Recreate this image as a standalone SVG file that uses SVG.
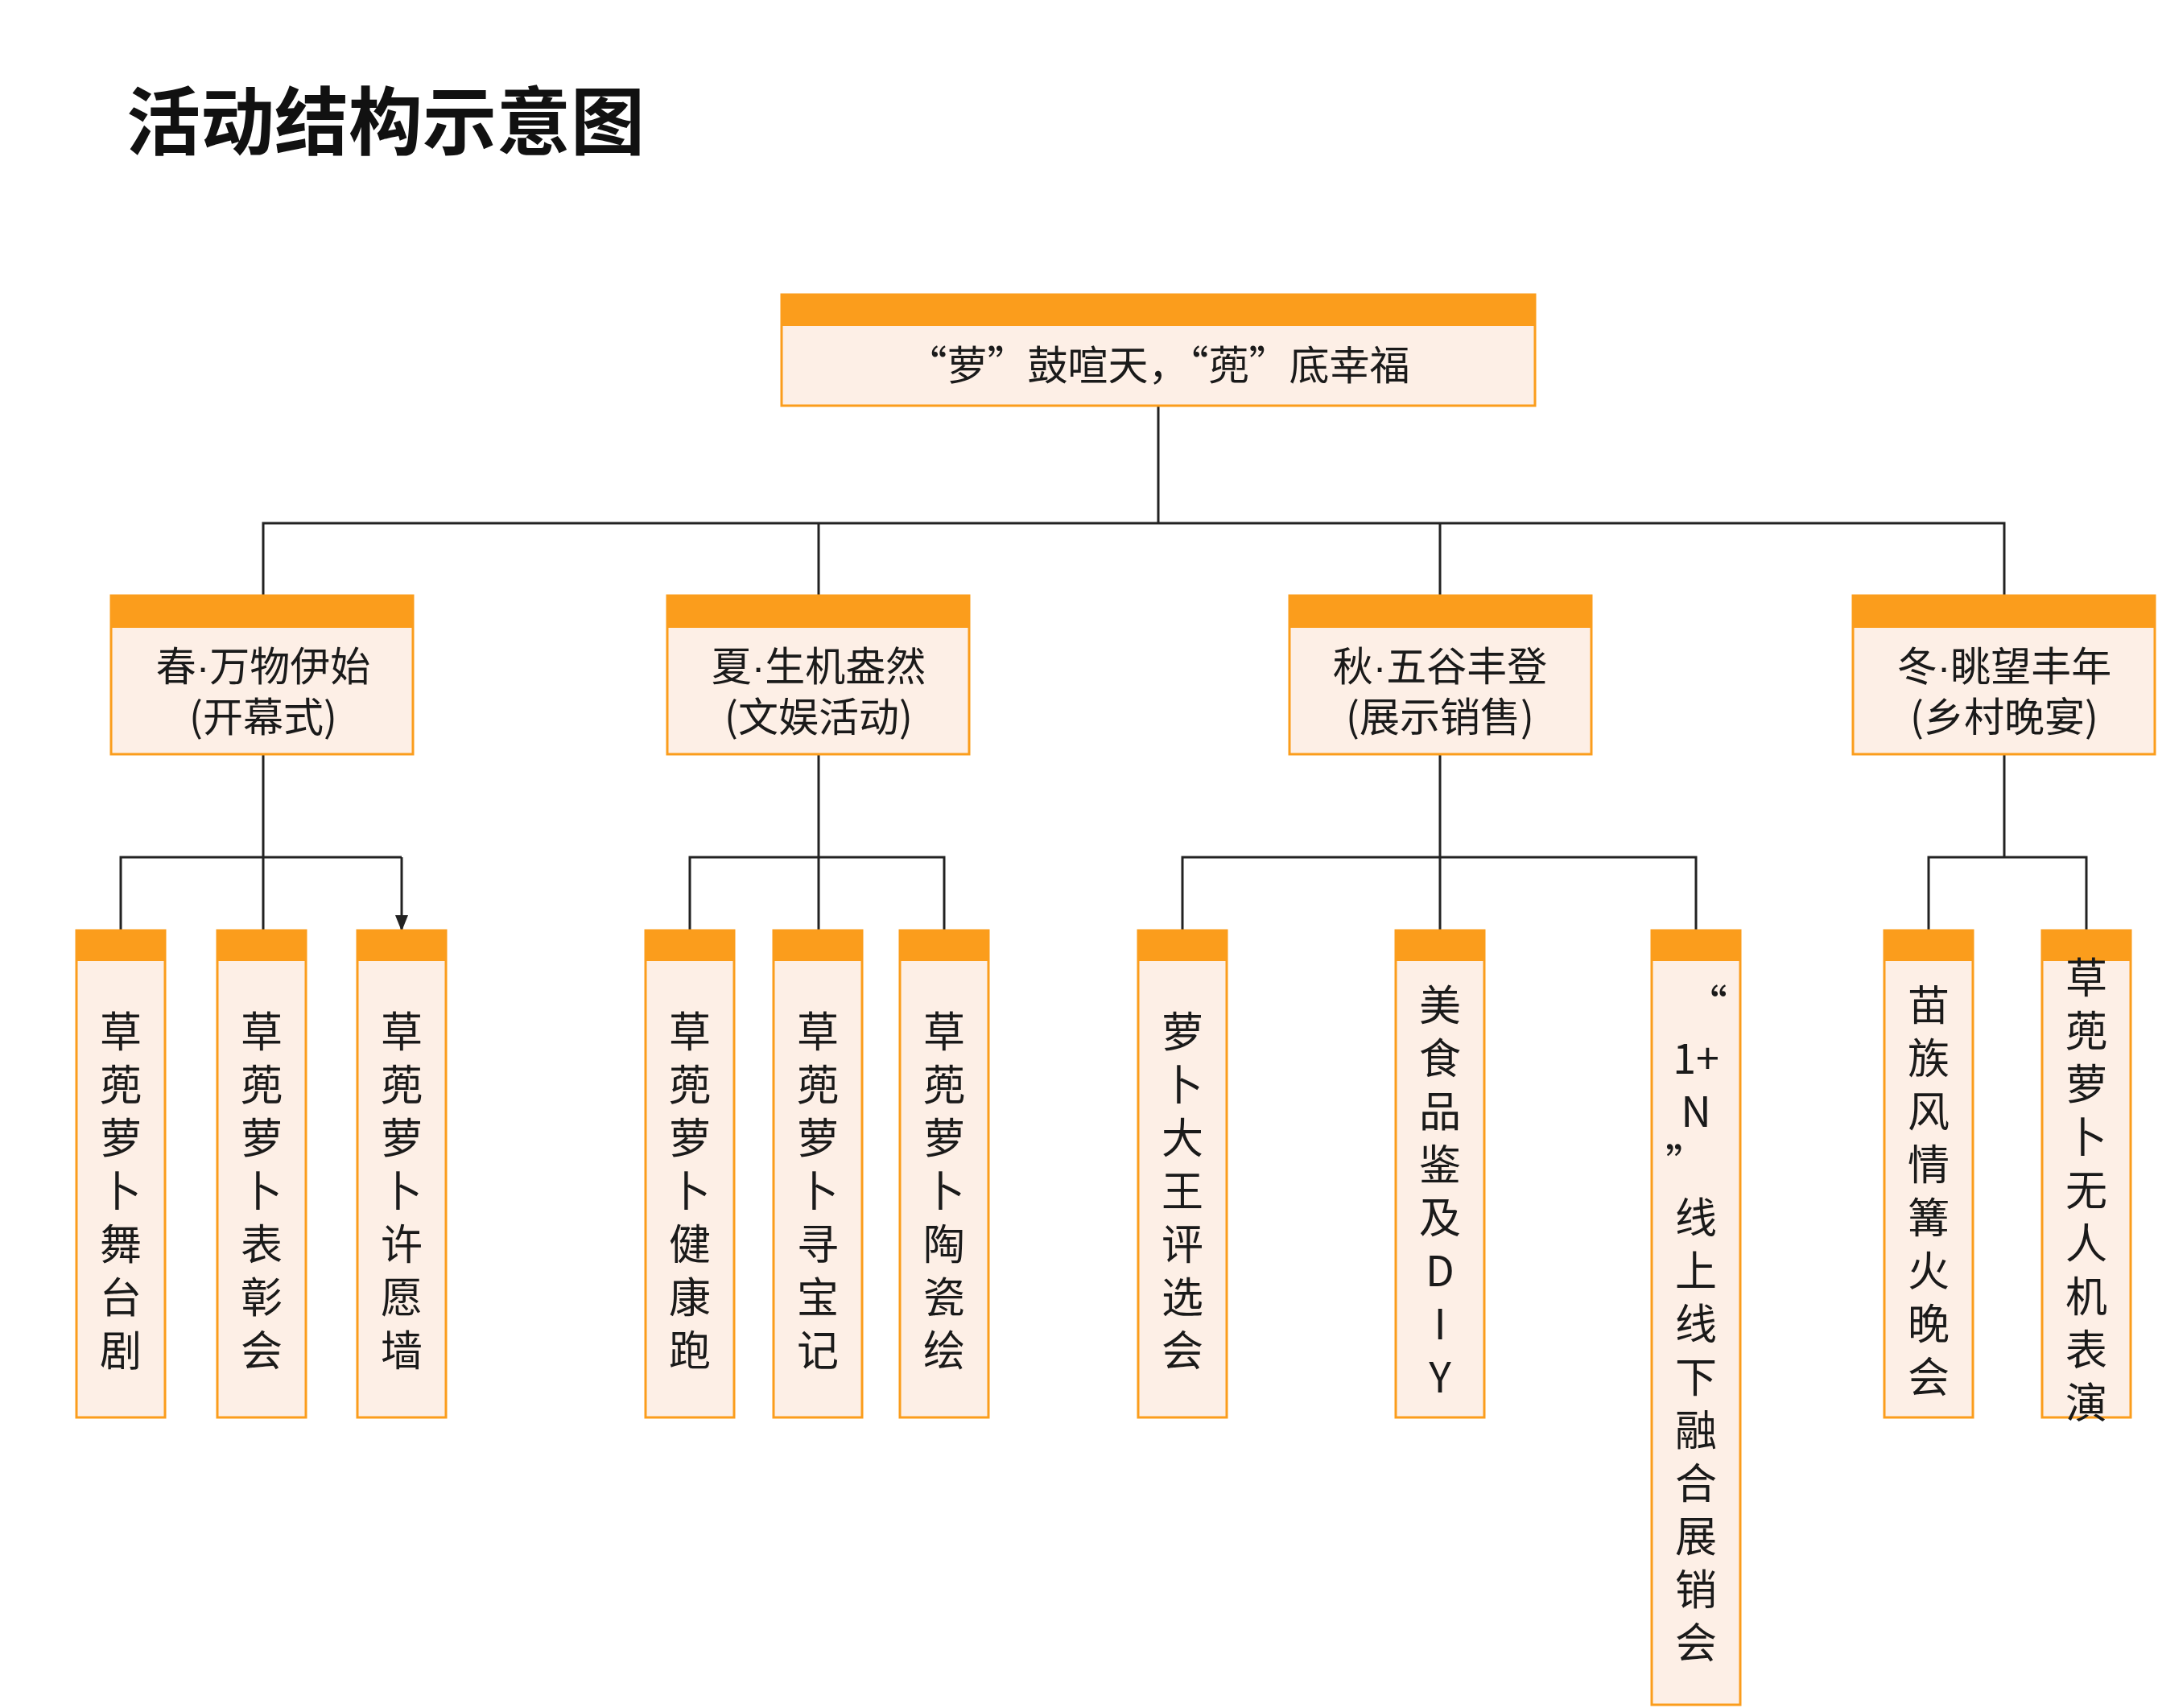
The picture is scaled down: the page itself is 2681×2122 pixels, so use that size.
<svg xmlns="http://www.w3.org/2000/svg" width="2681" height="2122" viewBox="0 0 2681 2122">
<style>
.body{fill:#FDEFE6;stroke:#FB9D1C;stroke-width:3}
.hd{fill:#FB9D1C}
.t{font-family:"Noto Sans CJK SC","Noto Sans",sans-serif;fill:#1a1a1a;text-anchor:middle}
.m{font-size:50px}
.v{font-size:52px}
.d{font-family:"Liberation Sans",sans-serif}
.c{fill:none;stroke:#222;stroke-width:3}
</style>
<defs><marker id="ar" markerWidth="20" markerHeight="20" refX="19" refY="8" orient="auto" markerUnits="userSpaceOnUse" viewBox="0 0 20 16"><path d="M0,0 L20,8 L0,16 z" fill="#222"/></marker></defs>
<rect width="2681" height="2122" fill="#fff"/>
<text x="157" y="185" font-family="Noto Sans CJK SC,sans-serif" font-weight="bold" font-size="92" fill="#111">活动结构示意图</text>
<g id="connectors">
<path class="c" d="M1439,504V650M327,740V650H2490V740M1017,650V740M1789,650V740"/>
<path class="c" d="M327,937V1156M150,1156V1065H499V1065"/>
<path class="c" d="M499,1065V1156" marker-end="url(#ar)"/>
<path class="c" d="M1017,937V1156M857,1156V1065H1173V1156"/>
<path class="c" d="M1789,937V1156M1469,1156V1065H2107V1156"/>
<path class="c" d="M2490,937V1065M2396,1156V1065H2592V1156"/>
</g>
<g id="root"><rect class="body" x="971" y="366" width="936" height="138"/><rect class="hd" x="971" y="366" width="936" height="39"/><text class="t m" x="1439" y="472">“萝”鼓喧天，“蔸”底幸福</text></g>
<g id="spring"><rect class="body" x="138" y="740" width="375" height="197"/><rect class="hd" x="138" y="740" width="375" height="40"/><text class="t m" x="327" y="846">春<tspan class="d">·</tspan>万物伊始</text><text class="t m" x="327" y="909">(开幕式)</text></g>
<g id="summer"><rect class="body" x="829" y="740" width="375" height="197"/><rect class="hd" x="829" y="740" width="375" height="40"/><text class="t m" x="1017" y="846">夏<tspan class="d">·</tspan>生机盎然</text><text class="t m" x="1017" y="909">(文娱活动)</text></g>
<g id="autumn"><rect class="body" x="1602" y="740" width="375" height="197"/><rect class="hd" x="1602" y="740" width="375" height="40"/><text class="t m" x="1789" y="846">秋<tspan class="d">·</tspan>五谷丰登</text><text class="t m" x="1789" y="909">(展示销售)</text></g>
<g id="winter"><rect class="body" x="2302" y="740" width="375" height="197"/><rect class="hd" x="2302" y="740" width="375" height="40"/><text class="t m" x="2490" y="846">冬<tspan class="d">·</tspan>眺望丰年</text><text class="t m" x="2490" y="909">(乡村晚宴)</text></g>
<g id="l1"><rect class="body" x="95" y="1156" width="110" height="605"/><rect class="hd" x="95" y="1156" width="110" height="38"/><text class="t v" y="1301"><tspan x="150">草</tspan><tspan x="150" dy="66">蔸</tspan><tspan x="150" dy="66">萝</tspan><tspan x="150" dy="66">卜</tspan><tspan x="150" dy="66">舞</tspan><tspan x="150" dy="66">台</tspan><tspan x="150" dy="66">剧</tspan></text></g>
<g id="l2"><rect class="body" x="270" y="1156" width="110" height="605"/><rect class="hd" x="270" y="1156" width="110" height="38"/><text class="t v" y="1301"><tspan x="325">草</tspan><tspan x="325" dy="66">蔸</tspan><tspan x="325" dy="66">萝</tspan><tspan x="325" dy="66">卜</tspan><tspan x="325" dy="66">表</tspan><tspan x="325" dy="66">彰</tspan><tspan x="325" dy="66">会</tspan></text></g>
<g id="l3"><rect class="body" x="444" y="1156" width="110" height="605"/><rect class="hd" x="444" y="1156" width="110" height="38"/><text class="t v" y="1301"><tspan x="499">草</tspan><tspan x="499" dy="66">蔸</tspan><tspan x="499" dy="66">萝</tspan><tspan x="499" dy="66">卜</tspan><tspan x="499" dy="66">许</tspan><tspan x="499" dy="66">愿</tspan><tspan x="499" dy="66">墙</tspan></text></g>
<g id="l4"><rect class="body" x="802" y="1156" width="110" height="605"/><rect class="hd" x="802" y="1156" width="110" height="38"/><text class="t v" y="1301"><tspan x="857">草</tspan><tspan x="857" dy="66">蔸</tspan><tspan x="857" dy="66">萝</tspan><tspan x="857" dy="66">卜</tspan><tspan x="857" dy="66">健</tspan><tspan x="857" dy="66">康</tspan><tspan x="857" dy="66">跑</tspan></text></g>
<g id="l5"><rect class="body" x="961" y="1156" width="110" height="605"/><rect class="hd" x="961" y="1156" width="110" height="38"/><text class="t v" y="1301"><tspan x="1016">草</tspan><tspan x="1016" dy="66">蔸</tspan><tspan x="1016" dy="66">萝</tspan><tspan x="1016" dy="66">卜</tspan><tspan x="1016" dy="66">寻</tspan><tspan x="1016" dy="66">宝</tspan><tspan x="1016" dy="66">记</tspan></text></g>
<g id="l6"><rect class="body" x="1118" y="1156" width="110" height="605"/><rect class="hd" x="1118" y="1156" width="110" height="38"/><text class="t v" y="1301"><tspan x="1173">草</tspan><tspan x="1173" dy="66">蔸</tspan><tspan x="1173" dy="66">萝</tspan><tspan x="1173" dy="66">卜</tspan><tspan x="1173" dy="66">陶</tspan><tspan x="1173" dy="66">瓷</tspan><tspan x="1173" dy="66">绘</tspan></text></g>
<g id="l7"><rect class="body" x="1414" y="1156" width="110" height="605"/><rect class="hd" x="1414" y="1156" width="110" height="38"/><text class="t v" y="1301"><tspan x="1469">萝</tspan><tspan x="1469" dy="66">卜</tspan><tspan x="1469" dy="66">大</tspan><tspan x="1469" dy="66">王</tspan><tspan x="1469" dy="66">评</tspan><tspan x="1469" dy="66">选</tspan><tspan x="1469" dy="66">会</tspan></text></g>
<g id="l8"><rect class="body" x="1734" y="1156" width="110" height="605"/><rect class="hd" x="1734" y="1156" width="110" height="38"/><text class="t v" y="1268"><tspan x="1789">美</tspan><tspan x="1789" dy="66">食</tspan><tspan x="1789" dy="66">品</tspan><tspan x="1789" dy="66">鉴</tspan><tspan x="1789" dy="66">及</tspan><tspan x="1789" dy="66">D</tspan><tspan x="1789" dy="66">I</tspan><tspan x="1789" dy="66">Y</tspan></text></g>
<g id="l9"><rect class="body" x="2052" y="1156" width="110" height="962"/><rect class="hd" x="2052" y="1156" width="110" height="38"/><text class="t v" y="1268"><tspan x="2120">“</tspan><tspan x="2107" dy="66">1+</tspan><tspan x="2107" dy="66">N</tspan><tspan x="2095" dy="66">”</tspan><tspan x="2107" dy="66">线</tspan><tspan x="2107" dy="66">上</tspan><tspan x="2107" dy="66">线</tspan><tspan x="2107" dy="66">下</tspan><tspan x="2107" dy="66">融</tspan><tspan x="2107" dy="66">合</tspan><tspan x="2107" dy="66">展</tspan><tspan x="2107" dy="66">销</tspan><tspan x="2107" dy="66">会</tspan></text></g>
<g id="l10"><rect class="body" x="2341" y="1156" width="110" height="605"/><rect class="hd" x="2341" y="1156" width="110" height="38"/><text class="t v" y="1268"><tspan x="2396">苗</tspan><tspan x="2396" dy="66">族</tspan><tspan x="2396" dy="66">风</tspan><tspan x="2396" dy="66">情</tspan><tspan x="2396" dy="66">篝</tspan><tspan x="2396" dy="66">火</tspan><tspan x="2396" dy="66">晚</tspan><tspan x="2396" dy="66">会</tspan></text></g>
<g id="l11"><rect class="body" x="2537" y="1156" width="110" height="605"/><rect class="hd" x="2537" y="1156" width="110" height="38"/><text class="t v" y="1234"><tspan x="2592">草</tspan><tspan x="2592" dy="66">蔸</tspan><tspan x="2592" dy="66">萝</tspan><tspan x="2592" dy="66">卜</tspan><tspan x="2592" dy="66">无</tspan><tspan x="2592" dy="66">人</tspan><tspan x="2592" dy="66">机</tspan><tspan x="2592" dy="66">表</tspan><tspan x="2592" dy="66">演</tspan></text></g>
</svg>
